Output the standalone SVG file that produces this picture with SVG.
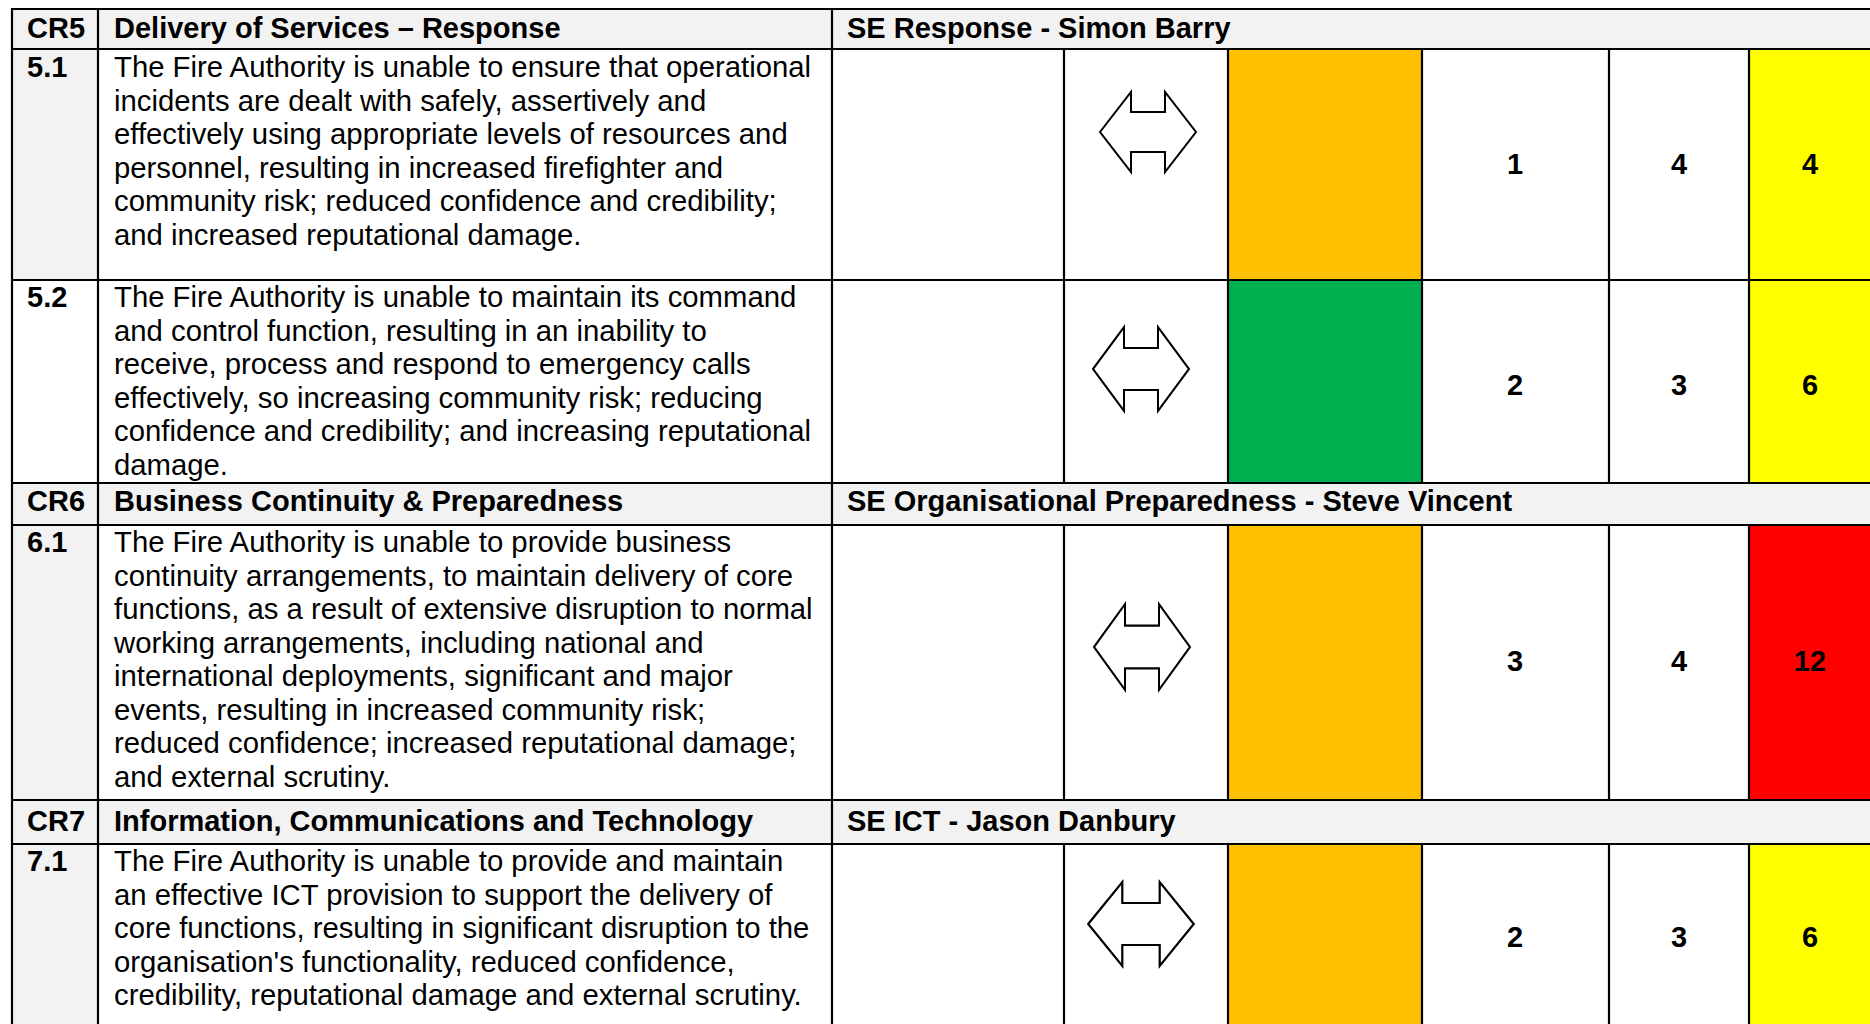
<svg xmlns="http://www.w3.org/2000/svg" xmlns:xlink="http://www.w3.org/1999/xlink" width="1870" height="1024" viewBox="0 0 1870 1024">
<style>
text{font-family:"Liberation Sans",Arial,sans-serif;font-size:29.3px;fill:#000}
.b{font-weight:bold;font-size:29px}
.n{font-weight:bold;font-size:29px;text-anchor:middle}
.hd{fill:#F2F2F2}
.idg{fill:#F2F2F2}
.w{fill:#FFFFFF}
.or{fill:#FFC000}
.gr{fill:#00B050}
.ye{fill:#FFFF00}
.rd{fill:#FF0000}
.grid line{stroke:#000;stroke-width:2.2}
.arr{fill:#fff;stroke:#000;stroke-width:2;stroke-linejoin:miter}
</style>
<defs>
<path id="arrow" class="arr" d="M-48,0 L-17,-40 L-17,-20 L17,-20 L17,-40 L48,0 L17,40 L17,20 L-17,20 L-17,40 Z"/>
</defs>
<rect x="0" y="0" width="1870" height="1024" fill="#fff"/>

<g id="cr5-header">
<rect class="hd" x="12" y="9" width="1860" height="40"/>
<text class="b" x="27" y="38">CR5</text>
<text class="b" x="114" y="38">Delivery of Services – Response</text>
<text class="b" x="847" y="38">SE Response - Simon Barry</text>
</g>

<g id="row-5-1">
<rect class="idg" x="12" y="49" width="86" height="231"/>
<rect class="or" x="1228" y="49" width="194" height="231"/>
<rect class="ye" x="1749" y="49" width="123" height="231"/>
<text class="b" x="27" y="77">5.1</text>
<text x="114" y="77">The Fire Authority is unable to ensure that operational</text>
<text x="114" y="110.5">incidents are dealt with safely, assertively and</text>
<text x="114" y="144">effectively using appropriate levels of resources and</text>
<text x="114" y="177.5">personnel, resulting in increased firefighter and</text>
<text x="114" y="211">community risk; reduced confidence and credibility;</text>
<text x="114" y="244.5">and increased reputational damage.</text>
<use xlink:href="#arrow" href="#arrow" transform="translate(1148,132)"/>
<text class="n" x="1515" y="174">1</text>
<text class="n" x="1679" y="174">4</text>
<text class="n" x="1810" y="174">4</text>
</g>

<g id="row-5-2">
<rect class="gr" x="1228" y="280" width="194" height="203"/>
<rect class="ye" x="1749" y="280" width="123" height="203"/>
<text class="b" x="27" y="307">5.2</text>
<text x="114" y="307">The Fire Authority is unable to maintain its command</text>
<text x="114" y="340.5">and control function, resulting in an inability to</text>
<text x="114" y="374">receive, process and respond to emergency calls</text>
<text x="114" y="407.5">effectively, so increasing community risk; reducing</text>
<text x="114" y="441">confidence and credibility; and increasing reputational</text>
<text x="114" y="474.5">damage.</text>
<use xlink:href="#arrow" href="#arrow" transform="translate(1141,369) scale(1,1.05)"/>
<text class="n" x="1515" y="395">2</text>
<text class="n" x="1679" y="395">3</text>
<text class="n" x="1810" y="395">6</text>
</g>

<g id="cr6-header">
<rect class="hd" x="12" y="483" width="1860" height="42"/>
<text class="b" x="27" y="511">CR6</text>
<text class="b" x="114" y="511">Business Continuity &amp; Preparedness</text>
<text class="b" x="847" y="511">SE Organisational Preparedness - Steve Vincent</text>
</g>

<g id="row-6-1">
<rect class="idg" x="12" y="525" width="86" height="275"/>
<rect class="or" x="1228" y="525" width="194" height="275"/>
<rect class="rd" x="1749" y="525" width="123" height="275"/>
<text class="b" x="27" y="552">6.1</text>
<text x="114" y="552">The Fire Authority is unable to provide business</text>
<text x="114" y="585.5">continuity arrangements, to maintain delivery of core</text>
<text x="114" y="619">functions, as a result of extensive disruption to normal</text>
<text x="114" y="652.5">working arrangements, including national and</text>
<text x="114" y="686">international deployments, significant and major</text>
<text x="114" y="719.5">events, resulting in increased community risk;</text>
<text x="114" y="753">reduced confidence; increased reputational damage;</text>
<text x="114" y="786.5">and external scrutiny.</text>
<use xlink:href="#arrow" href="#arrow" transform="translate(1142,647) scale(1,1.07)"/>
<text class="n" x="1515" y="671">3</text>
<text class="n" x="1679" y="671">4</text>
<text class="n" x="1810" y="671">12</text>
</g>

<g id="cr7-header">
<rect class="hd" x="12" y="800" width="1860" height="44"/>
<text class="b" x="27" y="831">CR7</text>
<text class="b" x="114" y="831">Information, Communications and Technology</text>
<text class="b" x="847" y="831">SE ICT - Jason Danbury</text>
</g>

<g id="row-7-1">
<rect class="idg" x="12" y="844" width="86" height="190"/>
<rect class="or" x="1228" y="844" width="194" height="190"/>
<rect class="ye" x="1749" y="844" width="123" height="190"/>
<text class="b" x="27" y="871">7.1</text>
<text x="114" y="871">The Fire Authority is unable to provide and maintain</text>
<text x="114" y="904.5">an effective ICT provision to support the delivery of</text>
<text x="114" y="938">core functions, resulting in significant disruption to the</text>
<text x="114" y="971.5">organisation's functionality, reduced confidence,</text>
<text x="114" y="1005">credibility, reputational damage and external scrutiny.</text>
<use xlink:href="#arrow" href="#arrow" transform="translate(1141,924) scale(1.1,1.05)"/>
<text class="n" x="1515" y="947">2</text>
<text class="n" x="1679" y="947">3</text>
<text class="n" x="1810" y="947">6</text>
</g>

<g id="connectors" class="grid">
<line x1="11" y1="9" x2="1872" y2="9"/>
<line x1="11" y1="49" x2="1872" y2="49"/>
<line x1="11" y1="280" x2="1872" y2="280"/>
<line x1="11" y1="483" x2="1872" y2="483"/>
<line x1="11" y1="525" x2="1872" y2="525"/>
<line x1="11" y1="800" x2="1872" y2="800"/>
<line x1="11" y1="844" x2="1872" y2="844"/>
<line x1="12" y1="8" x2="12" y2="1030"/>
<line x1="98" y1="8" x2="98" y2="1030"/>
<line x1="832" y1="8" x2="832" y2="1030"/>
<line x1="1064" y1="49" x2="1064" y2="483"/>
<line x1="1228" y1="49" x2="1228" y2="483"/>
<line x1="1422" y1="49" x2="1422" y2="483"/>
<line x1="1609" y1="49" x2="1609" y2="483"/>
<line x1="1749" y1="49" x2="1749" y2="483"/>
<line x1="1064" y1="525" x2="1064" y2="800"/>
<line x1="1228" y1="525" x2="1228" y2="800"/>
<line x1="1422" y1="525" x2="1422" y2="800"/>
<line x1="1609" y1="525" x2="1609" y2="800"/>
<line x1="1749" y1="525" x2="1749" y2="800"/>
<line x1="1064" y1="844" x2="1064" y2="1030"/>
<line x1="1228" y1="844" x2="1228" y2="1030"/>
<line x1="1422" y1="844" x2="1422" y2="1030"/>
<line x1="1609" y1="844" x2="1609" y2="1030"/>
<line x1="1749" y1="844" x2="1749" y2="1030"/>
</g>
</svg>
